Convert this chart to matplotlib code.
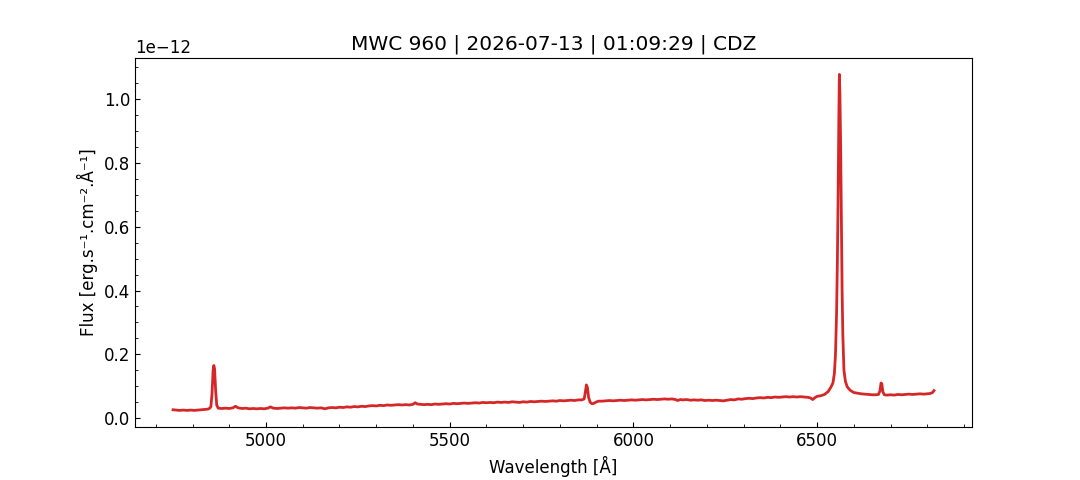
#!/usr/bin/env python3
# -*- coding: utf-8 -*-

import matplotlib

matplotlib.use("Agg")
import matplotlib.pyplot as plt
import numpy as np

TITLE = "MWC 960 | 2026-07-13 | 01:09:29 | CDZ"
X_LABEL = "Wavelength [Å]"
Y_LABEL = "Flux [erg.s⁻¹.cm⁻².Å⁻¹]"
OUT_PNG = "out.png"

# wavelength in Angstrom
WAVELENGTH = [
    4747, 4755, 4765, 4775, 4785, 4795, 4805, 4815, 4825, 4835, 4842, 4847,
    4850, 4853, 4856, 4858, 4860, 4863, 4866, 4870,
    4880, 4890, 4900, 4910, 4917, 4924, 4935, 4945, 4955, 4965, 4975, 4985,
    4995, 5005, 5012, 5020, 5030, 5040, 5050, 5060, 5070, 5080, 5090, 5100,
    5110, 5120, 5130, 5140, 5150, 5160, 5170, 5180, 5190, 5200, 5210, 5220,
    5230, 5240, 5250, 5260, 5270, 5280, 5290, 5300, 5310, 5320, 5330, 5340,
    5350, 5360, 5370, 5380, 5390, 5400, 5406, 5412, 5420, 5430, 5440, 5450,
    5460, 5470, 5480, 5490, 5500, 5510, 5520, 5530, 5540, 5550, 5560, 5570,
    5580, 5590, 5600, 5610, 5620, 5630, 5640, 5650, 5660, 5670, 5680, 5690,
    5700, 5710, 5720, 5730, 5740, 5750, 5760, 5770, 5780, 5790, 5800, 5810,
    5820, 5830, 5840, 5850, 5860,
    5866, 5869, 5872, 5875, 5878, 5882, 5887, 5892, 5898, 5905,
    5915, 5925, 5935, 5945, 5955, 5965, 5975, 5985, 5995, 6005, 6015, 6025,
    6035, 6045, 6055, 6065, 6075, 6085, 6095, 6105, 6115, 6120, 6128, 6135,
    6145, 6155, 6165, 6175, 6185, 6195, 6205, 6215, 6225, 6235, 6245, 6255,
    6265, 6275, 6285, 6295, 6305, 6315, 6325, 6335, 6345, 6355, 6365, 6375,
    6385, 6395, 6405, 6415, 6425, 6435, 6445, 6455, 6465, 6475, 6482, 6488,
    6494, 6500,
    6510, 6520, 6530, 6538, 6543, 6547, 6550, 6553, 6555, 6557, 6559, 6560.5,
    6562, 6564, 6566, 6568, 6570, 6573, 6577, 6582, 6590, 6600, 6610, 6620,
    6630, 6640, 6650, 6660, 6667,
    6671, 6674, 6676, 6679, 6683, 6690, 6700, 6710, 6720, 6730, 6740, 6750,
    6760, 6770, 6780, 6790, 6800, 6808, 6814, 6818,
]

# flux in units of 1e-12 erg/s/cm2/A
FLUX = [
    0.026, 0.025, 0.024, 0.025, 0.024, 0.025, 0.024, 0.025, 0.026, 0.027, 0.028, 0.031,
    0.036, 0.075, 0.150, 0.165, 0.155, 0.085, 0.040, 0.031,
    0.030, 0.031, 0.030, 0.032, 0.037, 0.032, 0.030, 0.031, 0.029, 0.030, 0.029, 0.030,
    0.029, 0.031, 0.035, 0.031, 0.030, 0.031, 0.032, 0.031, 0.032, 0.031, 0.033, 0.032,
    0.031, 0.033, 0.032, 0.031, 0.032, 0.029, 0.032, 0.033, 0.032, 0.034, 0.033, 0.035,
    0.034, 0.036, 0.035, 0.037, 0.036, 0.038, 0.039, 0.038, 0.040, 0.039, 0.041, 0.040,
    0.041, 0.042, 0.041, 0.042, 0.041, 0.043, 0.048, 0.044, 0.043, 0.042, 0.043, 0.042,
    0.044, 0.043, 0.044, 0.045, 0.044, 0.046, 0.045, 0.046, 0.047, 0.046, 0.047, 0.048,
    0.047, 0.049, 0.048, 0.049, 0.048, 0.050, 0.049, 0.050, 0.049, 0.051, 0.050, 0.049,
    0.051, 0.050, 0.052, 0.051, 0.052, 0.053, 0.052, 0.053, 0.054, 0.053, 0.055, 0.054,
    0.055, 0.056, 0.055, 0.057, 0.057,
    0.060, 0.080, 0.104, 0.095, 0.065, 0.050, 0.045, 0.046, 0.050, 0.053,
    0.053, 0.054, 0.055, 0.054, 0.055, 0.056, 0.055, 0.056, 0.057, 0.056, 0.057, 0.058,
    0.057, 0.058, 0.059, 0.058, 0.059, 0.060, 0.059, 0.060, 0.058, 0.055, 0.058, 0.057,
    0.058, 0.056, 0.057, 0.056, 0.057, 0.055, 0.056, 0.055, 0.056, 0.055, 0.054, 0.056,
    0.058, 0.057, 0.060, 0.059, 0.061, 0.062, 0.061, 0.063, 0.064, 0.063, 0.065, 0.064,
    0.066, 0.065, 0.066, 0.067, 0.066, 0.067, 0.066, 0.067, 0.066, 0.065, 0.063, 0.058,
    0.064, 0.068,
    0.070, 0.074, 0.083, 0.098, 0.110, 0.140, 0.200, 0.330, 0.480, 0.680, 0.930, 1.078,
    1.020, 0.860, 0.620, 0.400, 0.260, 0.150, 0.115, 0.098, 0.087, 0.080, 0.078, 0.076,
    0.075, 0.074, 0.073, 0.073, 0.074,
    0.085, 0.110, 0.108, 0.082, 0.073, 0.072, 0.073, 0.072, 0.074, 0.073, 0.074, 0.075,
    0.074, 0.075, 0.076, 0.075, 0.076, 0.077, 0.080, 0.086,
]


def main():
    wave = np.array(WAVELENGTH, dtype=float)
    flux = np.array(FLUX, dtype=float) * 1e-12

    fig, ax = plt.subplots(figsize=(10.8, 4.8), dpi=100)
    ax.plot(wave, flux, color="tab:red", linewidth=2)

    ax.set_title(TITLE, fontsize=14.5)
    ax.set_xlabel(X_LABEL, fontsize=12)
    ax.set_ylabel(Y_LABEL, fontsize=12)
    ax.minorticks_on()
    ax.tick_params(which="both", direction="in", top=False, right=False, labelsize=12)
    ax.yaxis.get_offset_text().set_fontsize(12)

    fig.savefig(OUT_PNG, dpi=100)
    plt.close(fig)


if __name__ == "__main__":
    main()
